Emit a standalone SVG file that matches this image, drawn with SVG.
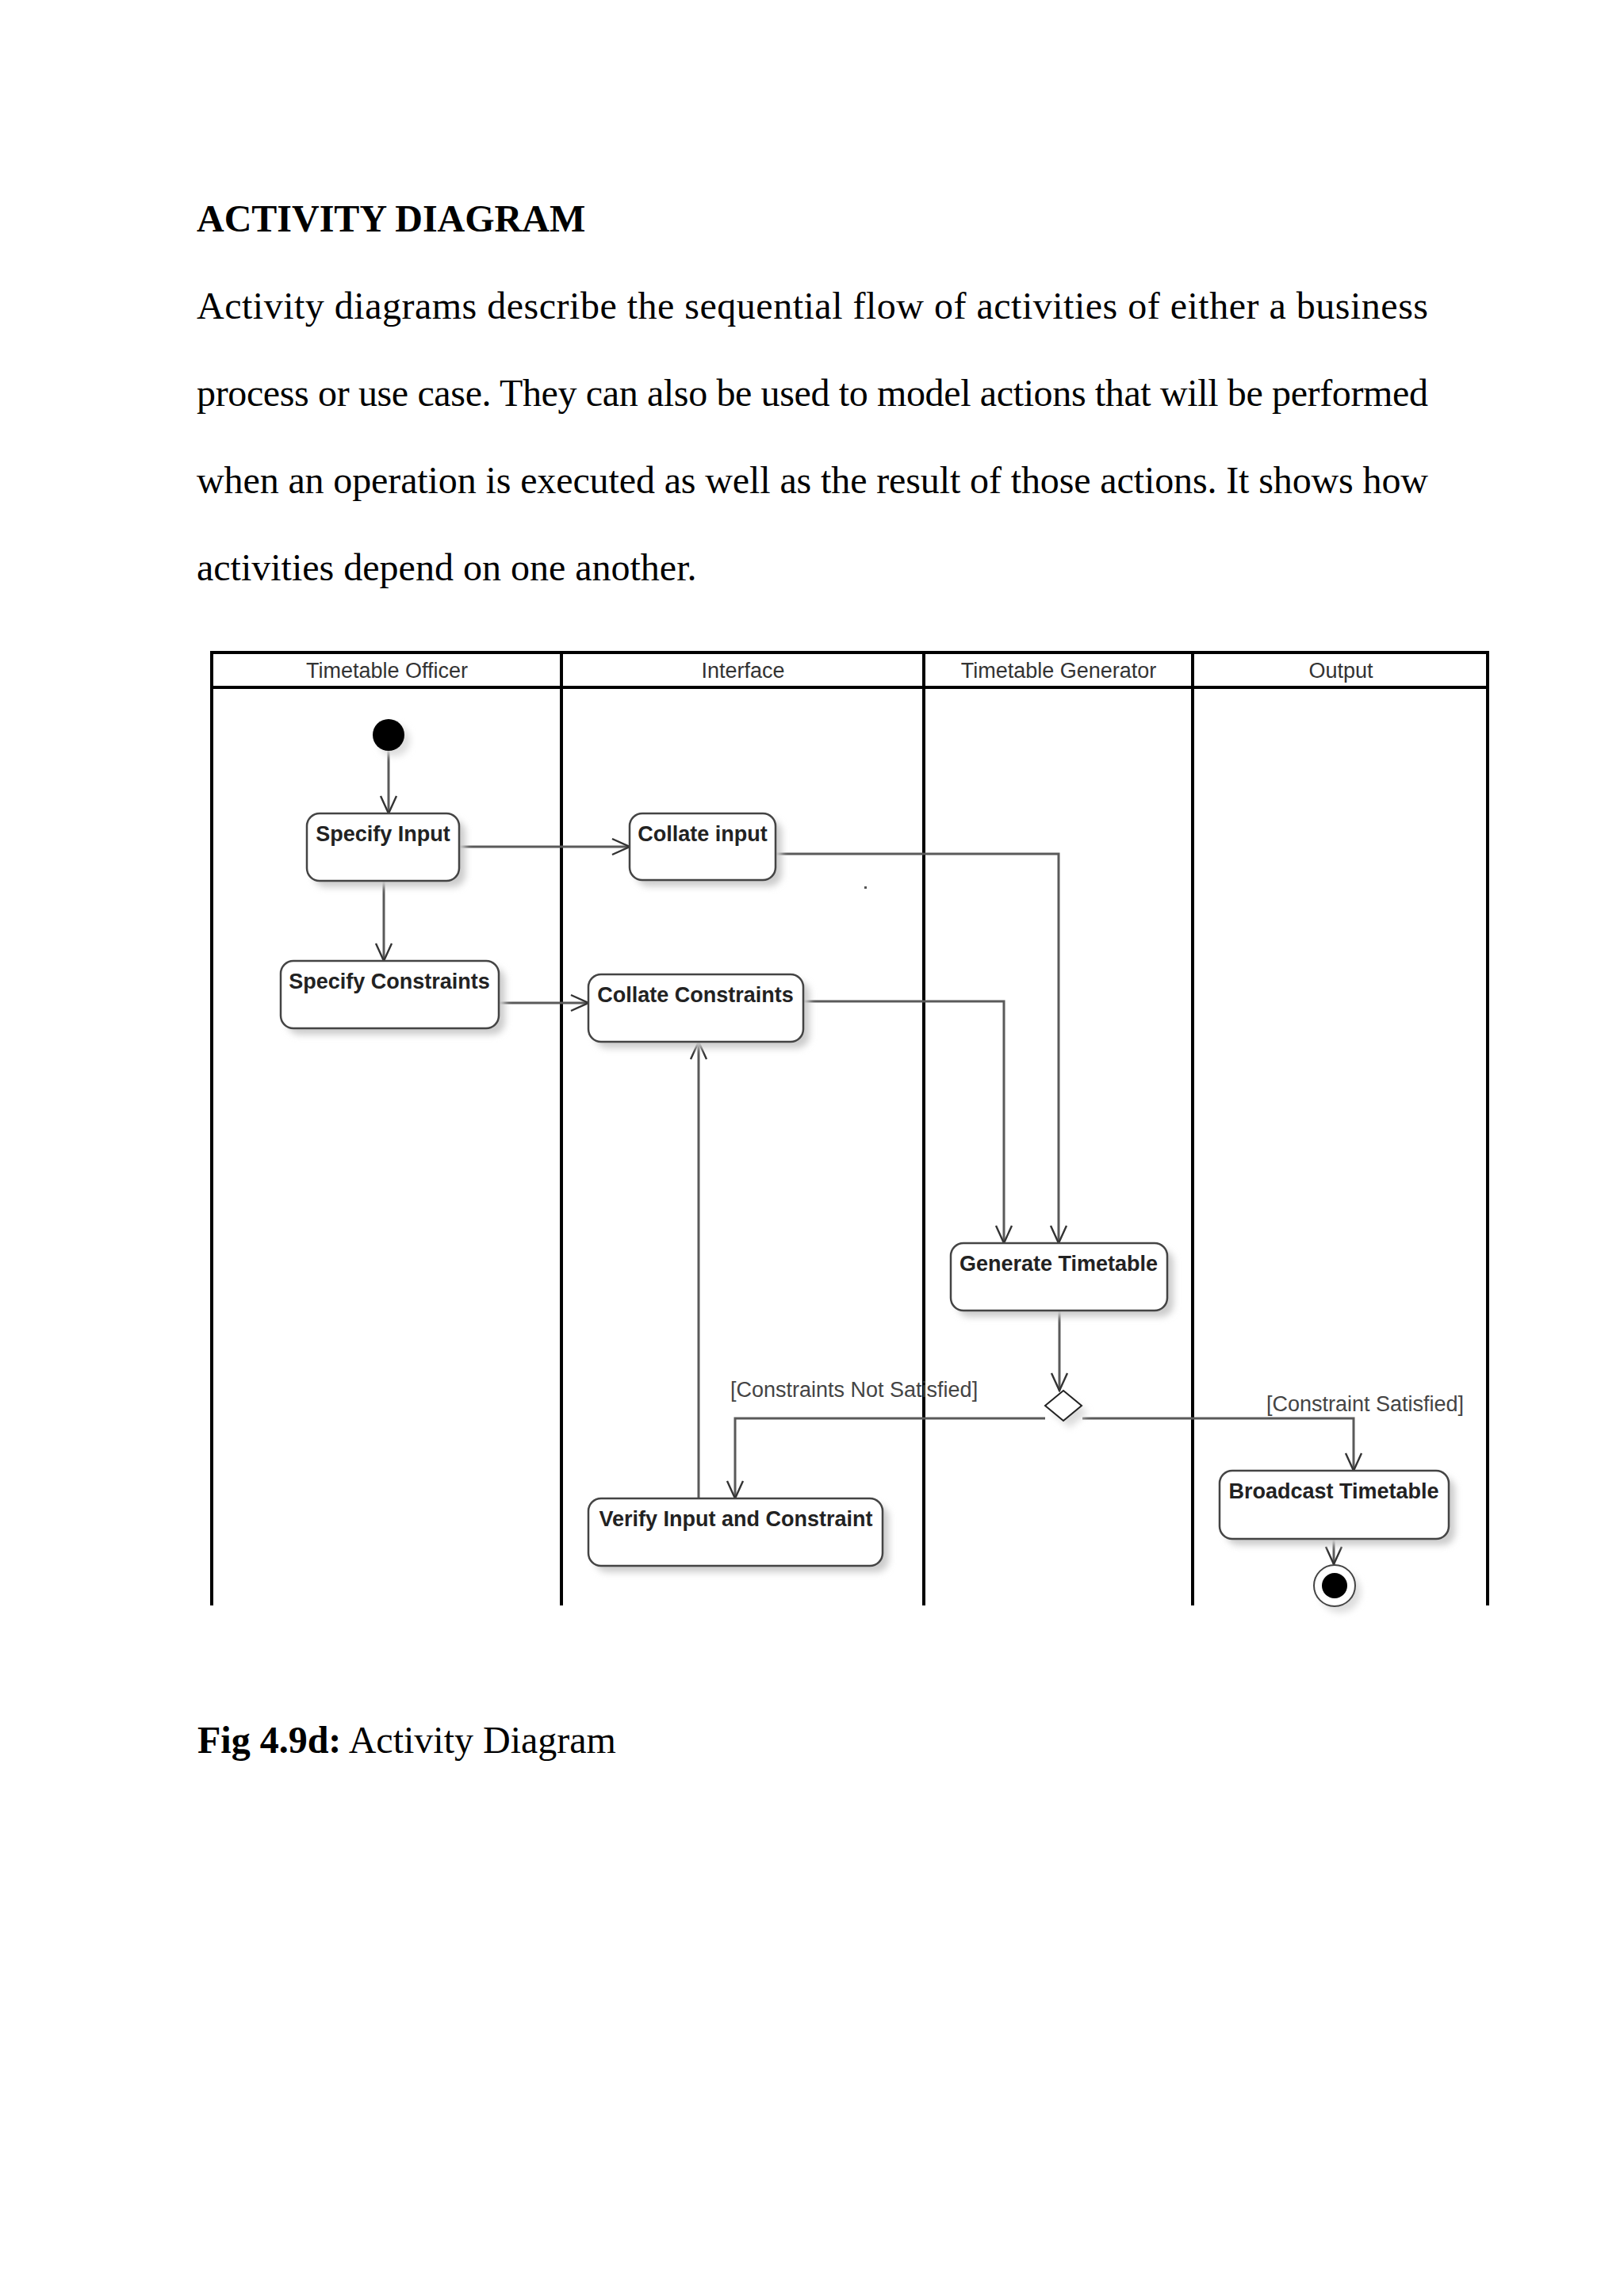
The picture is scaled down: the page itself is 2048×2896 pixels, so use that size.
<svg xmlns="http://www.w3.org/2000/svg" width="2048" height="2896" viewBox="0 0 2048 2896">
<style>
.page{font-family:"Liberation Serif","Times New Roman",serif;font-size:48px;fill:#000}
.lane{stroke:#000;stroke-width:4;fill:none}
.hdr{font-family:"Liberation Sans",Arial,sans-serif;font-size:27px;fill:#333;text-anchor:middle}
.node rect.box{fill:#fff;stroke:#444;stroke-width:2.5}
.node rect.sh{fill:#ccc;filter:url(#blur)}
.lbl{font-family:"Liberation Sans",Arial,sans-serif;font-size:27px;font-weight:bold;fill:#222;text-anchor:middle}
.guard{font-family:"Liberation Sans",Arial,sans-serif;font-size:27px;fill:#444}
.conn path{fill:none;stroke:#5a5a5a;stroke-width:3;marker-end:url(#arr)}
</style>
<defs>
<filter id="blur" x="-20%" y="-20%" width="140%" height="140%"><feGaussianBlur stdDeviation="4"/></filter>
<marker id="arr" viewBox="0 0 26 26" refX="24" refY="13" markerWidth="26" markerHeight="26" markerUnits="userSpaceOnUse" orient="auto">
<path d="M2,3 L24,13 L2,23" fill="none" stroke="#333" stroke-width="2.4"/>
</marker>
</defs>
<rect width="2048" height="2896" fill="#fff"/>

<g id="page-text">
<text class="page" x="248" y="292" font-weight="bold">ACTIVITY DIAGRAM</text>
<text class="page" x="248" y="402" textLength="1553" lengthAdjust="spacing">Activity diagrams describe the sequential flow of activities of either a business</text>
<text class="page" x="248" y="512" textLength="1553" lengthAdjust="spacing">process or use case. They can also be used to model actions that will be performed</text>
<text class="page" x="248" y="622" textLength="1553" lengthAdjust="spacing">when an operation is executed as well as the result of those actions. It shows how</text>
<text class="page" x="248" y="732">activities depend on one another.</text>
<text class="page" x="249" y="2211"><tspan font-weight="bold">Fig 4.9d:</tspan> Activity Diagram</text>
</g>

<g id="swimlanes">
<path class="lane" d="M267,2025 V823 H1876 V2025"/>
<line class="lane" x1="267" y1="867" x2="1876" y2="867"/>
<line class="lane" x1="708" y1="823" x2="708" y2="2025"/>
<line class="lane" x1="1165" y1="823" x2="1165" y2="2025"/>
<line class="lane" x1="1504" y1="823" x2="1504" y2="2025"/>
<text class="hdr" x="488" y="855">Timetable Officer</text>
<text class="hdr" x="937" y="855">Interface</text>
<text class="hdr" x="1335" y="855">Timetable Generator</text>
<text class="hdr" x="1691" y="855">Output</text>
</g>

<g id="connectors" class="conn">
<path d="M490,947 V1026"/>
<path d="M579,1068 H794"/>
<path d="M484,1111 V1212"/>
<path d="M629,1265 H742"/>
<path d="M978,1077 H1335 V1568"/>
<path d="M1012,1263 H1266 V1568"/>
<path d="M1336,1653 V1754"/>
<path d="M1365,1789 H1707 V1855"/>
<path d="M1318,1789 H927 V1890"/>
<path d="M881,1890 V1314"/>
<path d="M1682,1941 V1973"/>
<text class="guard" x="921" y="1762">[Constraints Not Satisfied]</text>
<text class="guard" x="1597" y="1780">[Constraint Satisfied]</text>
</g>

<g id="initial" class="node">
<circle cx="497" cy="934" r="20" fill="#ddd" filter="url(#blur)"/>
<circle cx="490" cy="927" r="20" fill="#000"/>
</g>

<g id="specify-input" class="node">
<rect class="sh" x="395" y="1034" width="192" height="85" rx="16"/>
<rect class="box" x="387" y="1026" width="192" height="85" rx="16"/>
<text class="lbl" x="483" y="1061">Specify Input</text>
</g>

<g id="collate-input" class="node">
<rect class="sh" x="802" y="1034" width="184" height="84" rx="16"/>
<rect class="box" x="794" y="1026" width="184" height="84" rx="16"/>
<text class="lbl" x="886" y="1061">Collate input</text>
</g>

<g id="specify-constraints" class="node">
<rect class="sh" x="362" y="1220" width="275" height="85" rx="16"/>
<rect class="box" x="354" y="1212" width="275" height="85" rx="16"/>
<text class="lbl" x="491" y="1247">Specify Constraints</text>
</g>

<g id="collate-constraints" class="node">
<rect class="sh" x="750" y="1237" width="271" height="85" rx="16"/>
<rect class="box" x="742" y="1229" width="271" height="85" rx="16"/>
<text class="lbl" x="877" y="1264">Collate Constraints</text>
</g>

<g id="generate-timetable" class="node">
<rect class="sh" x="1207" y="1576" width="273" height="85" rx="16"/>
<rect class="box" x="1199" y="1568" width="273" height="85" rx="16"/>
<text class="lbl" x="1335" y="1603">Generate Timetable</text>
</g>

<g id="decision" class="node">
<polygon points="1349,1763 1372,1782 1349,1801 1326,1782" fill="#ddd" filter="url(#blur)"/>
<polygon points="1341,1754 1364,1773 1341,1792 1318,1773" fill="#fff" stroke="#222" stroke-width="2"/>
</g>

<g id="verify" class="node">
<rect class="sh" x="750" y="1898" width="371" height="85" rx="16"/>
<rect class="box" x="742" y="1890" width="371" height="85" rx="16"/>
<text class="lbl" x="928" y="1925">Verify Input and Constraint</text>
</g>

<g id="broadcast" class="node">
<rect class="sh" x="1546" y="1863" width="289" height="86" rx="16"/>
<rect class="box" x="1538" y="1855" width="289" height="86" rx="16"/>
<text class="lbl" x="1682" y="1890">Broadcast Timetable</text>
</g>

<g id="final" class="node">
<circle cx="1690" cy="2008" r="26" fill="#ddd" filter="url(#blur)"/>
<circle cx="1683" cy="2000" r="26" fill="#fff" stroke="#444" stroke-width="2"/>
<circle cx="1683" cy="2000" r="16" fill="#000"/>
</g>

<rect id="stray-dot" x="1090" y="1118" width="3" height="3" fill="#555"/>
</svg>
